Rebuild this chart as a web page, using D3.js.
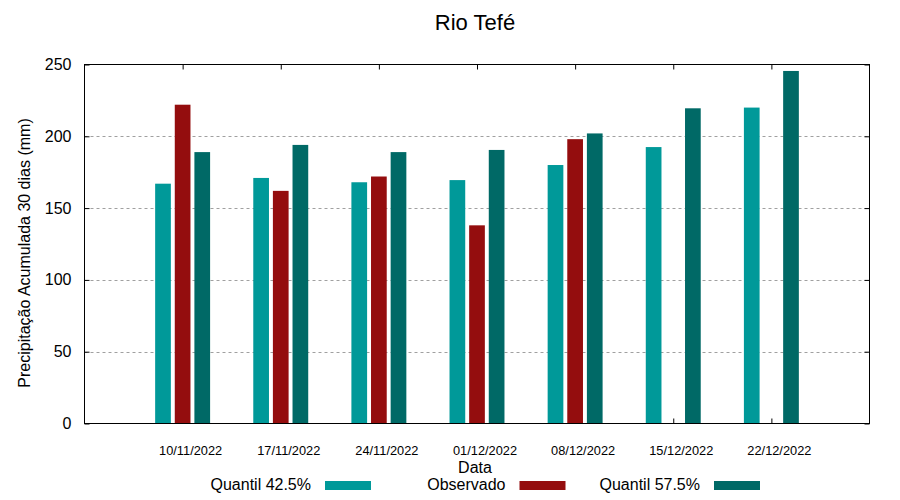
<!DOCTYPE html>
<html>
<head>
<meta charset="utf-8">
<script src="https://cdn.jsdelivr.net/npm/d3@7"></script>
<style>
  body { margin: 0; background: #fff; }
  svg { display: block; font-family: "Liberation Sans", Arial, sans-serif; }
</style>
</head>
<body>
<svg id="chart" width="900" height="500"></svg>
<script>
const dates = ["10/11/2022", "17/11/2022", "24/11/2022", "01/12/2022", "08/12/2022", "15/12/2022", "22/12/2022"];
const quantil425 = [167, 171, 168, 169.5, 180, 192.5, 220];
const observado = [222, 162, 172, 138, 198, null, null];
const quantil575 = [189, 194, 189, 190.5, 202, 219.5, 245.5];
const seriesNames = ["Quantil 42.5%", "Observado", "Quantil 57.5%"];
const seriesColors = ["#009999", "#940d0e", "#006966"];
const yTicks = [0, 50, 100, 150, 200, 250];

const series = [quantil425, observado, quantil575];

const svg = d3.select("#chart");
const L = 84.5, R = 869.5, T = 64.5, B = 423.5;

const x = d3.scaleLinear().domain([0, dates.length + 1]).range([L, R]);
const y = d3.scaleLinear().domain([0, 250]).range([B, T]);

// grid
svg.append("g").selectAll("line").data(yTicks.filter(v => v > 0 && v < 250)).join("line")
  .attr("x1", L).attr("x2", R)
  .attr("y1", d => Math.round(y(d)) + 0.5).attr("y2", d => Math.round(y(d)) + 0.5)
  .attr("stroke", "#a0a0a0").attr("stroke-width", 1).attr("stroke-dasharray", "3,3");

// inward ticks via axes
const tickLen = 5;
const xAxisBottom = d3.axisBottom(x).tickValues(d3.range(1, dates.length + 1)).tickSize(-tickLen).tickFormat("");
const xAxisTop = d3.axisTop(x).tickValues(d3.range(1, dates.length + 1)).tickSize(-tickLen).tickFormat("");
const yAxisLeft = d3.axisLeft(y).tickValues(yTicks).tickSize(-tickLen).tickFormat("");
const yAxisRight = d3.axisRight(y).tickValues(yTicks).tickSize(-tickLen).tickFormat("");

function styleAxis(g) {
  g.select(".domain").remove();
  g.selectAll(".tick line").attr("stroke", "#000").attr("stroke-width", 1);
}
svg.append("g").attr("transform", `translate(0,${B})`).call(xAxisBottom).call(styleAxis);
svg.append("g").attr("transform", `translate(0,${T})`).call(xAxisTop).call(styleAxis);
svg.append("g").attr("transform", `translate(${L},0)`).call(yAxisLeft).call(styleAxis);
svg.append("g").attr("transform", `translate(${R},0)`).call(yAxisRight).call(styleAxis);

// bars
const offsets = [-0.2, 0, 0.2];
const bw = 0.16;
series.forEach((vals, si) => {
  svg.append("g").selectAll("rect")
    .data(vals.map((v, i) => ({ v, i })).filter(d => d.v !== null))
    .join("rect")
    .attr("x", d => x(d.i + 1 + offsets[si] - bw / 2))
    .attr("width", d => x(bw) - x(0))
    .attr("y", d => y(d.v))
    .attr("height", d => y(0) - y(d.v))
    .attr("fill", seriesColors[si]);
});

// frame
svg.append("rect").attr("x", L).attr("y", T).attr("width", R - L).attr("height", B - T)
  .attr("fill", "none").attr("stroke", "#000").attr("stroke-width", 1);

// y tick labels
svg.append("g").selectAll("text").data(yTicks).join("text")
  .attr("x", 71.5).attr("y", d => y(d) + 5.5)
  .attr("text-anchor", "end").attr("font-size", 16).attr("fill", "#000")
  .text(d => d);

// x tick labels
svg.append("g").selectAll("text").data(dates).join("text")
  .attr("x", (d, i) => x(i + 1) + 8).attr("y", 455)
  .attr("text-anchor", "middle").attr("font-size", 12.8).attr("fill", "#000")
  .text(d => d);

// title
svg.append("text").attr("x", 475).attr("y", 30).attr("text-anchor", "middle")
  .attr("font-size", 22).attr("fill", "#000").text("Rio Tefé");

// axis titles
svg.append("text").attr("x", 475).attr("y", 473).attr("text-anchor", "middle")
  .attr("font-size", 16).attr("fill", "#000").text("Data");
svg.append("text").attr("transform", "translate(30,253) rotate(-90)").attr("text-anchor", "middle")
  .attr("font-size", 16).attr("fill", "#000").text("Precipitação Acumulada 30 dias (mm)");

// legend
const legendSwatchX = [325, 519.5, 714];
const legend = svg.append("g");
seriesNames.forEach((name, i) => {
  legend.append("text").attr("x", legendSwatchX[i] - 14).attr("y", 489.5)
    .attr("text-anchor", "end").attr("font-size", 16).attr("fill", "#000").text(name);
  legend.append("rect").attr("x", legendSwatchX[i]).attr("y", 481)
    .attr("width", 46).attr("height", 9).attr("fill", seriesColors[i]);
});
</script>
</body>
</html>
